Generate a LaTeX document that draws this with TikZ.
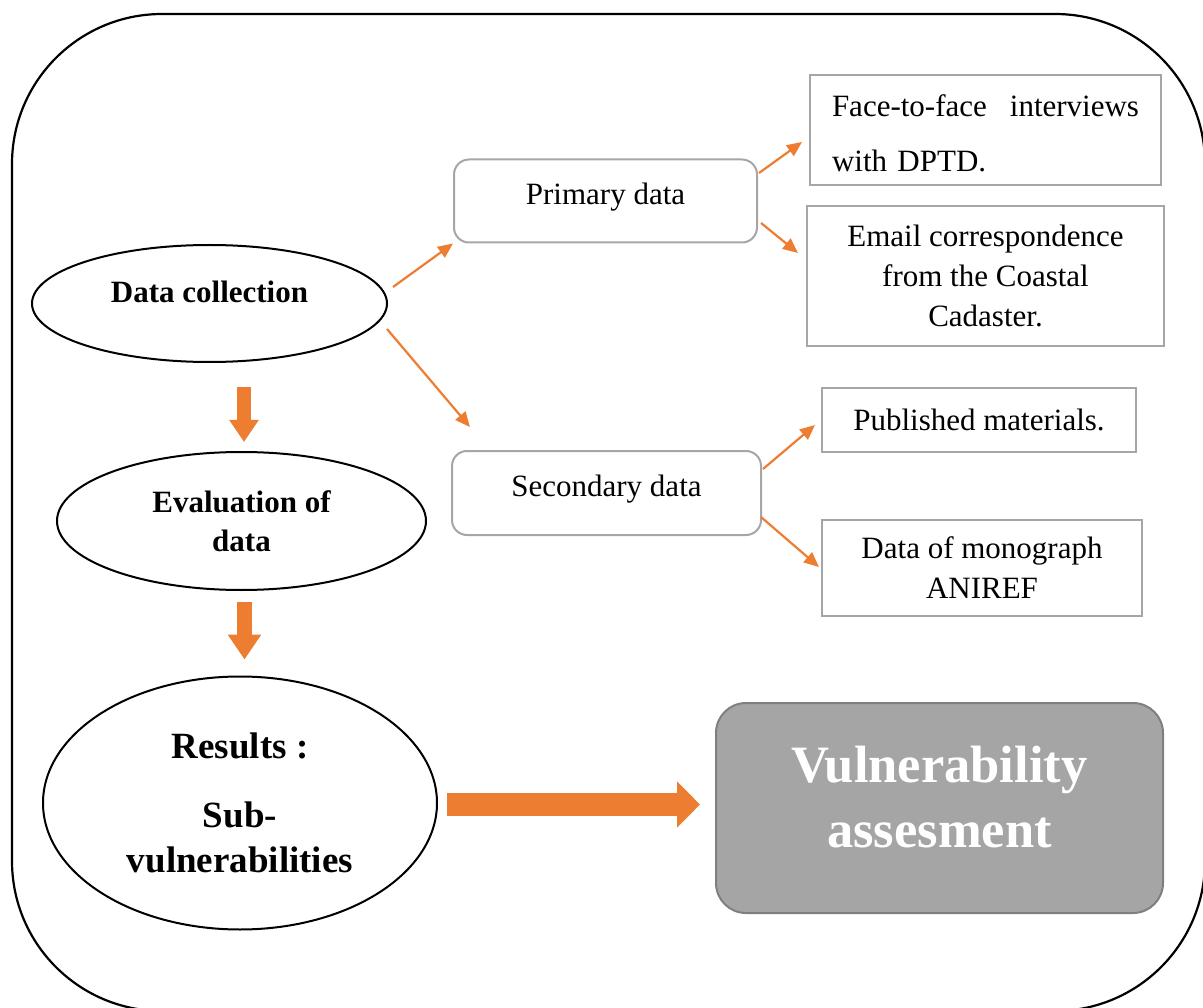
\documentclass[tikz,border=0pt]{standalone}
\usepackage{fontspec}
\setmainfont{Liberation Serif}
\usetikzlibrary{shapes.geometric,arrows.meta,calc}

\definecolor{accent}{HTML}{ED7D31}
\definecolor{boxline}{HTML}{A6A6A6}
\definecolor{darkfill}{HTML}{A5A5A5}
\definecolor{darkline}{HTML}{7F7F7F}

\tikzset{
  frameline/.style={draw=black,line width=2.2pt,rounded corners=150pt},
  oval/.style={ellipse,draw=black,line width=2pt,inner sep=0pt,outer sep=0pt,align=center},
  databox/.style={rectangle,rounded corners=15pt,draw=boxline,line width=2pt,inner sep=0pt,outer sep=0pt,
    font=\fontsize{31}{39}\selectfont,minimum width=303pt,minimum height=83pt},
  srcbox/.style={rectangle,draw=boxline,line width=2pt,inner sep=0pt,outer sep=0pt,
    font=\fontsize{31}{40}\selectfont,align=center},
  resultbox/.style={rectangle,rounded corners=30pt,draw=darkline,fill=darkfill,line width=2pt,
    inner sep=0pt,outer sep=0pt,text=white,font=\fontsize{52.5}{65}\selectfont\bfseries,align=center},
  thinarrow/.style={draw=accent,line width=2.2pt,-{Triangle[length=15pt,width=13pt]}},
  blockarrow/.style={draw=accent,fill=accent}
}

\begin{document}
\begin{tikzpicture}[x=1pt,y=-1pt]
  \useasboundingbox (0,0) rectangle (1203,1008);
  \clip (0,0) rectangle (1203,1008);

  % enclosing frame
  \draw[frameline] (12,14) rectangle (1205,1011);

  % left column: process steps
  \node[oval,minimum width=355pt,minimum height=117pt,
        font=\fontsize{31}{39}\selectfont\bfseries,text height=21pt,text depth=22pt]
        (dc) at (209.5,303.5) {Data collection};
  \node[oval,minimum width=369pt,minimum height=138pt,
        font=\fontsize{31}{39}\selectfont\bfseries]
        (ev) at (241.5,521) {Evaluation of\\data};
  \node[oval,minimum width=394pt,minimum height=253pt,
        font=\fontsize{37}{45}\selectfont\bfseries]
        (res) at (240,803) {Results :\\[24pt]Sub-\\vulnerabilities};

  % data types
  \node[databox,text height=22pt,text depth=14pt] (pd) at (605.5,201) {Primary data};
  \node[databox,minimum width=309pt,minimum height=84pt,text height=22pt,text depth=16pt]
        (sd) at (606.5,493) {Secondary data};

  % data sources
  \node[srcbox,minimum width=351pt,minimum height=110pt,align=left,text width=307pt,
        font=\fontsize{31}{55}\selectfont,text depth=49pt]
        (ff) at (985.5,130) {Face-to-face\hfill interviews\\with DPTD.};
  \node[srcbox,minimum width=357pt,minimum height=140pt]
        (em) at (985.5,276) {Email correspondence\\from the Coastal\\Cadaster.};
  \node[srcbox,minimum width=314pt,minimum height=64pt]
        (pm) at (979,420) {Published materials.};
  \node[srcbox,minimum width=320pt,minimum height=96pt]
        (mg) at (982,568) {Data of monograph\\ANIREF};

  % outcome
  \node[resultbox,minimum width=447pt,minimum height=210pt,text depth=22pt]
        (vul) at (939.5,808) {Vulnerability\\assesment};

  % branching connectors
  \draw[thinarrow] ($(dc.east)+(6,-16.5)$) -- ($(pd.south west)+(-1,1)$);
  \draw[thinarrow] ($(dc.east)+(0,25.5)$) -- ($(sd.north west)+(18,-24)$);
  \draw[thinarrow] ($(pd.east)+(2,-28)$) -- ($(ff.west)+(-8,12)$);
  \draw[thinarrow] ($(pd.east)+(4,22)$) -- ($(em.west)+(-9,-23)$);
  \draw[thinarrow] ($(sd.east)+(2,-24)$) -- ($(pm.west)+(-7,5)$);
  \draw[thinarrow] ($(sd.east)+(0,24)$) -- ($(mg.west)+(-3,-1)$);

  % block arrows between steps
  \draw[blockarrow,line width=14pt,-{Triangle[length=22pt,width=28pt]}]
    ($(ev.north |- dc.south)+(2.5,25)$) -- ($(ev.north)+(2.5,-10)$);
  \draw[blockarrow,line width=15pt,-{Triangle[length=25pt,width=32pt]}]
    ($(ev.south)+(3,12)$) -- ($(res.north)+(4.5,-17)$);
  \draw[blockarrow,line width=23pt,-{Triangle[length=23pt,width=45pt]}]
    ($(res.east)+(10,1.5)$) -- ($(vul.west |- res.east)+(-16,1.5)$);
\end{tikzpicture}
\end{document}
